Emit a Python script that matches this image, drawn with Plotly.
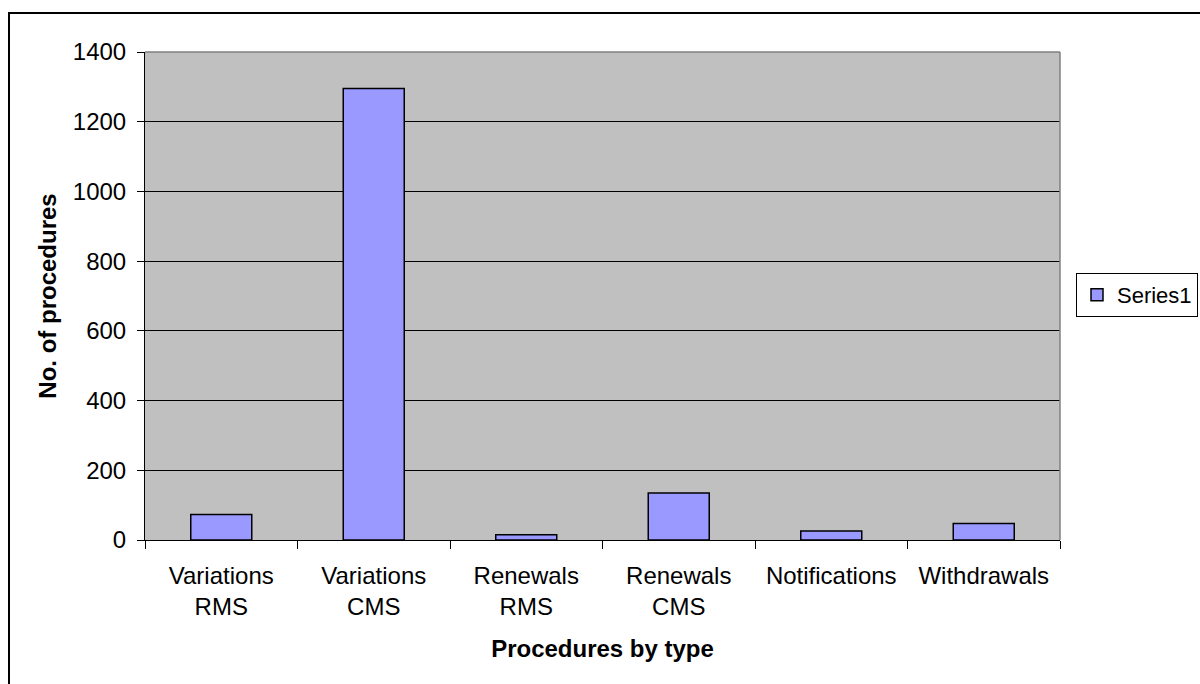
import plotly.graph_objects as go

# Procedure counts by type
categories = ["Variations<br>RMS", "Variations<br>CMS", "Renewals<br>RMS",
              "Renewals<br>CMS", "Notifications", "Withdrawals"]
series1 = [73, 1295, 15, 135, 26, 47]
y_ticks = [0, 200, 400, 600, 800, 1000, 1200, 1400]

FONT = "Liberation Sans, Arial, sans-serif"

# Plot area in pixels
W, H = 1200, 684
L, R, T, B = 145, 140, 52, 144
pw, ph = W - L - R, H - T - B


def px_x(x):
    return (x - L) / pw


def px_y(y):
    return (H - B - y) / ph


fig = go.Figure()
fig.add_trace(go.Bar(
    x=categories, y=series1, name="Series1",
    marker=dict(color="#9999FF", line=dict(color="black", width=1.5)),
))

fig.update_layout(
    width=W, height=H,
    margin=dict(l=L, r=R, t=T, b=B, pad=0, autoexpand=False),
    paper_bgcolor="white",
    plot_bgcolor="#C0C0C0",
    font=dict(family=FONT, size=24, color="black"),
    bargap=0.6,
    showlegend=True,
    legend=dict(
        x=px_x(1076), y=px_y(295), xanchor="left", yanchor="middle",
        bgcolor="white", bordercolor="black", borderwidth=1,
        font=dict(family=FONT, size=22, color="black"),
    ),
    xaxis=dict(
        type="category",
        tickson="boundaries",
        ticks="outside", ticklen=8, tickcolor="black", tickwidth=1,
        showline=True, linecolor="black", linewidth=1,
        showgrid=False,
        automargin=False,
        ticklabelstandoff=14,
        tickfont=dict(family=FONT, size=24),
        title=dict(text="<b>Procedures by type</b>", standoff=21,
                   font=dict(family=FONT, size=24)),
    ),
    yaxis=dict(
        range=[0, 1400],
        tickvals=y_ticks,
        ticks="outside", ticklen=7, tickcolor="black", tickwidth=1,
        showline=True, linecolor="black", linewidth=1,
        showgrid=True, gridcolor="black", gridwidth=1,
        zeroline=False,
        automargin=False,
        ticklabelstandoff=6,
        tickfont=dict(family=FONT, size=24),
        title=dict(text="<b>No. of procedures</b>", standoff=9,
                   font=dict(family=FONT, size=24)),
    ),
    shapes=[
        # gray top and right edges of the plot area
        dict(type="line", xref="paper", yref="paper", x0=0, x1=1, y0=1, y1=1,
             line=dict(color="#808080", width=1.5), layer="above"),
        dict(type="line", xref="paper", yref="paper", x0=1, x1=1, y0=0, y1=1,
             line=dict(color="#808080", width=1.5), layer="above"),
        # chart frame
        dict(type="rect", xref="paper", yref="paper",
             x0=px_x(9), x1=px_x(1210), y0=px_y(13), y1=px_y(700),
             line=dict(color="black", width=2), fillcolor="rgba(0,0,0,0)"),
    ],
)

fig.write_html("out.html")
